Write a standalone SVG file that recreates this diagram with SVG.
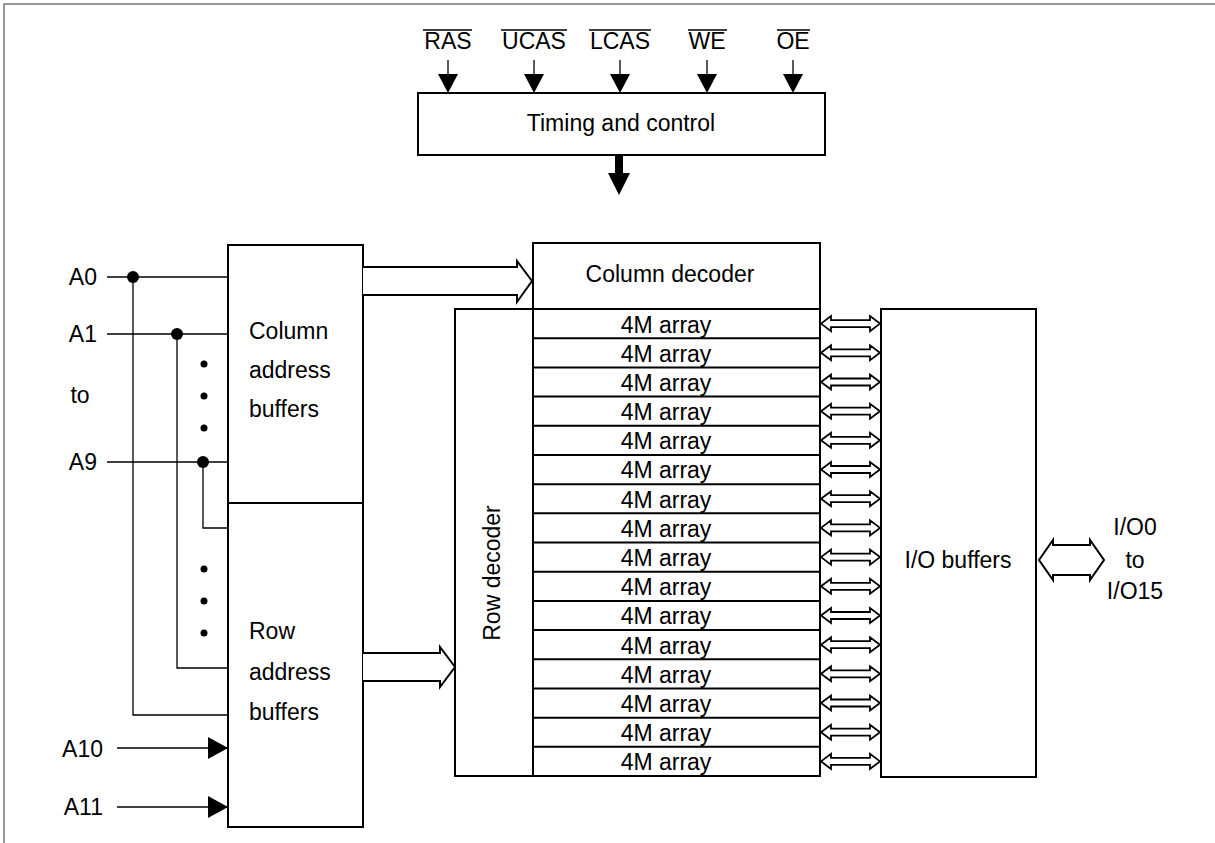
<svg xmlns="http://www.w3.org/2000/svg" width="1215" height="843" viewBox="0 0 1215 843">
<style>
  text { font-family: "Liberation Sans", Arial, sans-serif; font-size: 23px; fill: #000; }
  .box { fill: #fff; stroke: #000; stroke-width: 2; }
  .ln { fill: none; stroke: #000; stroke-width: 1.3; }
  .wide { fill: #fff; stroke: #000; stroke-width: 2; stroke-linejoin: miter; }
  .mid { text-anchor: middle; }
  .end { text-anchor: end; }
</style>
<defs>
  <path id="dbl" d="M821,0 L831,-7.5 L831,-3.5 L870,-3.5 L870,-7.5 L880,0 L870,7.5 L870,3.5 L831,3.5 L831,7.5 Z" fill="#fff" stroke="#000" stroke-width="1.8"/>
  <marker id="ah" viewBox="0 0 20 22" refX="20" refY="11" markerWidth="20" markerHeight="22" markerUnits="userSpaceOnUse" orient="auto">
    <path d="M0,0 L20,11 L0,22 Z" fill="#000"/>
  </marker>
</defs>

<rect width="1215" height="843" fill="#fff"/>
<!-- frame -->
<path d="M4,843 L4,4 L1215,4" fill="none" stroke="#777" stroke-width="1.5"/>

<!-- control signal labels -->
<g id="signals">
  <text class="mid" x="448" y="49">RAS</text>
  <text class="mid" x="534" y="49">UCAS</text>
  <text class="mid" x="620" y="49">LCAS</text>
  <text class="mid" x="707" y="49">WE</text>
  <text class="mid" x="793" y="49">OE</text>
  <g stroke="#000" stroke-width="1.3">
    <line x1="423" y1="30" x2="472" y2="30"/>
    <line x1="501" y1="30" x2="567" y2="30"/>
    <line x1="589" y1="30" x2="651" y2="30"/>
    <line x1="688" y1="30" x2="727" y2="30"/>
    <line x1="777" y1="30" x2="810" y2="30"/>
  </g>
</g>

<g id="timing">
  <rect class="box" x="418" y="93" width="407" height="62"/>
  <text class="mid" x="621" y="131">Timing and control</text>
</g>

<g id="col-addr-buf">
  <rect class="box" x="228" y="245" width="135" height="258"/>
  <text x="249" y="339">Column</text>
  <text x="249" y="378">address</text>
  <text x="249" y="417">buffers</text>
</g>

<g id="row-addr-buf">
  <rect class="box" x="228" y="503" width="135" height="324"/>
  <text x="249" y="639">Row</text>
  <text x="249" y="680">address</text>
  <text x="249" y="720">buffers</text>
</g>

<g id="col-decoder">
  <rect class="box" x="533" y="243" width="287" height="66"/>
  <text class="mid" x="670" y="282">Column decoder</text>
</g>

<g id="row-decoder">
  <rect class="box" x="455" y="309" width="78" height="467"/>
  <text class="mid" transform="translate(500,573) rotate(-90)">Row decoder</text>
</g>

<g id="arrays">
  <rect class="box" x="533" y="309" width="287" height="467"/>
  <g stroke="#000" stroke-width="2">
    <line x1="533" y1="338.19" x2="820" y2="338.19"/>
    <line x1="533" y1="367.38" x2="820" y2="367.38"/>
    <line x1="533" y1="396.56" x2="820" y2="396.56"/>
    <line x1="533" y1="425.75" x2="820" y2="425.75"/>
    <line x1="533" y1="454.94" x2="820" y2="454.94"/>
    <line x1="533" y1="484.13" x2="820" y2="484.13"/>
    <line x1="533" y1="513.31" x2="820" y2="513.31"/>
    <line x1="533" y1="542.5" x2="820" y2="542.5"/>
    <line x1="533" y1="571.69" x2="820" y2="571.69"/>
    <line x1="533" y1="600.88" x2="820" y2="600.88"/>
    <line x1="533" y1="630.06" x2="820" y2="630.06"/>
    <line x1="533" y1="659.25" x2="820" y2="659.25"/>
    <line x1="533" y1="688.44" x2="820" y2="688.44"/>
    <line x1="533" y1="717.63" x2="820" y2="717.63"/>
    <line x1="533" y1="746.81" x2="820" y2="746.81"/>
  </g>
  <g>
    <text class="mid" x="666" y="332.5">4M array</text>
    <text class="mid" x="666" y="361.7">4M array</text>
    <text class="mid" x="666" y="390.9">4M array</text>
    <text class="mid" x="666" y="420.1">4M array</text>
    <text class="mid" x="666" y="449.3">4M array</text>
    <text class="mid" x="666" y="478.4">4M array</text>
    <text class="mid" x="666" y="507.6">4M array</text>
    <text class="mid" x="666" y="536.8">4M array</text>
    <text class="mid" x="666" y="566">4M array</text>
    <text class="mid" x="666" y="595.2">4M array</text>
    <text class="mid" x="666" y="624.4">4M array</text>
    <text class="mid" x="666" y="653.6">4M array</text>
    <text class="mid" x="666" y="682.8">4M array</text>
    <text class="mid" x="666" y="711.9">4M array</text>
    <text class="mid" x="666" y="741.1">4M array</text>
    <text class="mid" x="666" y="770.3">4M array</text>
  </g>
</g>

<g id="io-buffers">
  <rect class="box" x="881" y="309" width="155" height="468"/>
  <text class="mid" x="958" y="568">I/O buffers</text>
</g>

<g id="labels">
  <text class="end" x="97" y="285">A0</text>
  <text class="end" x="97" y="342">A1</text>
  <text class="mid" x="80" y="403">to</text>
  <text class="end" x="97" y="470">A9</text>
  <text class="end" x="103" y="757">A10</text>
  <text class="end" x="103" y="815">A11</text>
  <text class="mid" x="1135" y="535">I/O0</text>
  <text class="mid" x="1135" y="568">to</text>
  <text class="mid" x="1135" y="599">I/O15</text>
</g>

<g id="connectors">
  <!-- control inputs -->
  <g fill="#000" stroke="#000" stroke-width="1.3">
    <line x1="448" y1="60" x2="448" y2="75"/>
    <line x1="534" y1="60" x2="534" y2="75"/>
    <line x1="620" y1="60" x2="620" y2="75"/>
    <line x1="707" y1="60" x2="707" y2="75"/>
    <line x1="793" y1="60" x2="793" y2="75"/>
    <path d="M438,74 L458,74 L448,93 Z" stroke="none"/>
    <path d="M524,74 L544,74 L534,93 Z" stroke="none"/>
    <path d="M610,74 L630,74 L620,93 Z" stroke="none"/>
    <path d="M697,74 L717,74 L707,93 Z" stroke="none"/>
    <path d="M783,74 L803,74 L793,93 Z" stroke="none"/>
  </g>
  <!-- thick arrow from timing -->
  <path d="M615,155 L623,155 L623,173 L630,173 L619,195 L608,173 L615,173 Z" fill="#000"/>

  <!-- address wiring -->
  <g class="ln">
    <line x1="107" y1="277" x2="228" y2="277"/>
    <line x1="107" y1="334" x2="228" y2="334"/>
    <line x1="107" y1="462" x2="228" y2="462"/>
    <polyline points="133,277 133,715 228,715"/>
    <polyline points="177,334 177,668 228,668"/>
    <polyline points="203,462 203,528 228,528"/>
    <line x1="117" y1="748" x2="228" y2="748" marker-end="url(#ah)"/>
    <line x1="117" y1="807" x2="228" y2="807" marker-end="url(#ah)"/>
  </g>
  <g fill="#000">
    <circle cx="133" cy="277" r="6"/>
    <circle cx="177" cy="334" r="6"/>
    <circle cx="203" cy="462" r="6"/>
    <circle cx="204" cy="364" r="3.5"/>
    <circle cx="204" cy="396" r="3.5"/>
    <circle cx="204" cy="428" r="3.5"/>
    <circle cx="204" cy="569" r="3.5"/>
    <circle cx="204" cy="601" r="3.5"/>
    <circle cx="204" cy="633" r="3.5"/>
  </g>

  <!-- bus arrows -->
  <path class="wide" d="M363,267 L517,267 L517,261 L532,281 L517,302 L517,295 L363,295"/>
  <path class="wide" d="M363,653 L440,653 L440,647 L455,667 L440,687 L440,681 L363,681"/>
  <path class="wide" d="M1039,560 L1053,540 L1053,545 L1090,545 L1090,540 L1104,560 L1090,580 L1090,575 L1053,575 L1053,580 Z"/>

  <!-- array to I/O double arrows -->
  <use href="#dbl" y="323.6"/>
  <use href="#dbl" y="352.8"/>
  <use href="#dbl" y="382"/>
  <use href="#dbl" y="411.2"/>
  <use href="#dbl" y="440.3"/>
  <use href="#dbl" y="469.5"/>
  <use href="#dbl" y="498.7"/>
  <use href="#dbl" y="527.9"/>
  <use href="#dbl" y="557.1"/>
  <use href="#dbl" y="586.3"/>
  <use href="#dbl" y="615.5"/>
  <use href="#dbl" y="644.7"/>
  <use href="#dbl" y="673.8"/>
  <use href="#dbl" y="703"/>
  <use href="#dbl" y="732.2"/>
  <use href="#dbl" y="761.4"/>
</g>
</svg>
